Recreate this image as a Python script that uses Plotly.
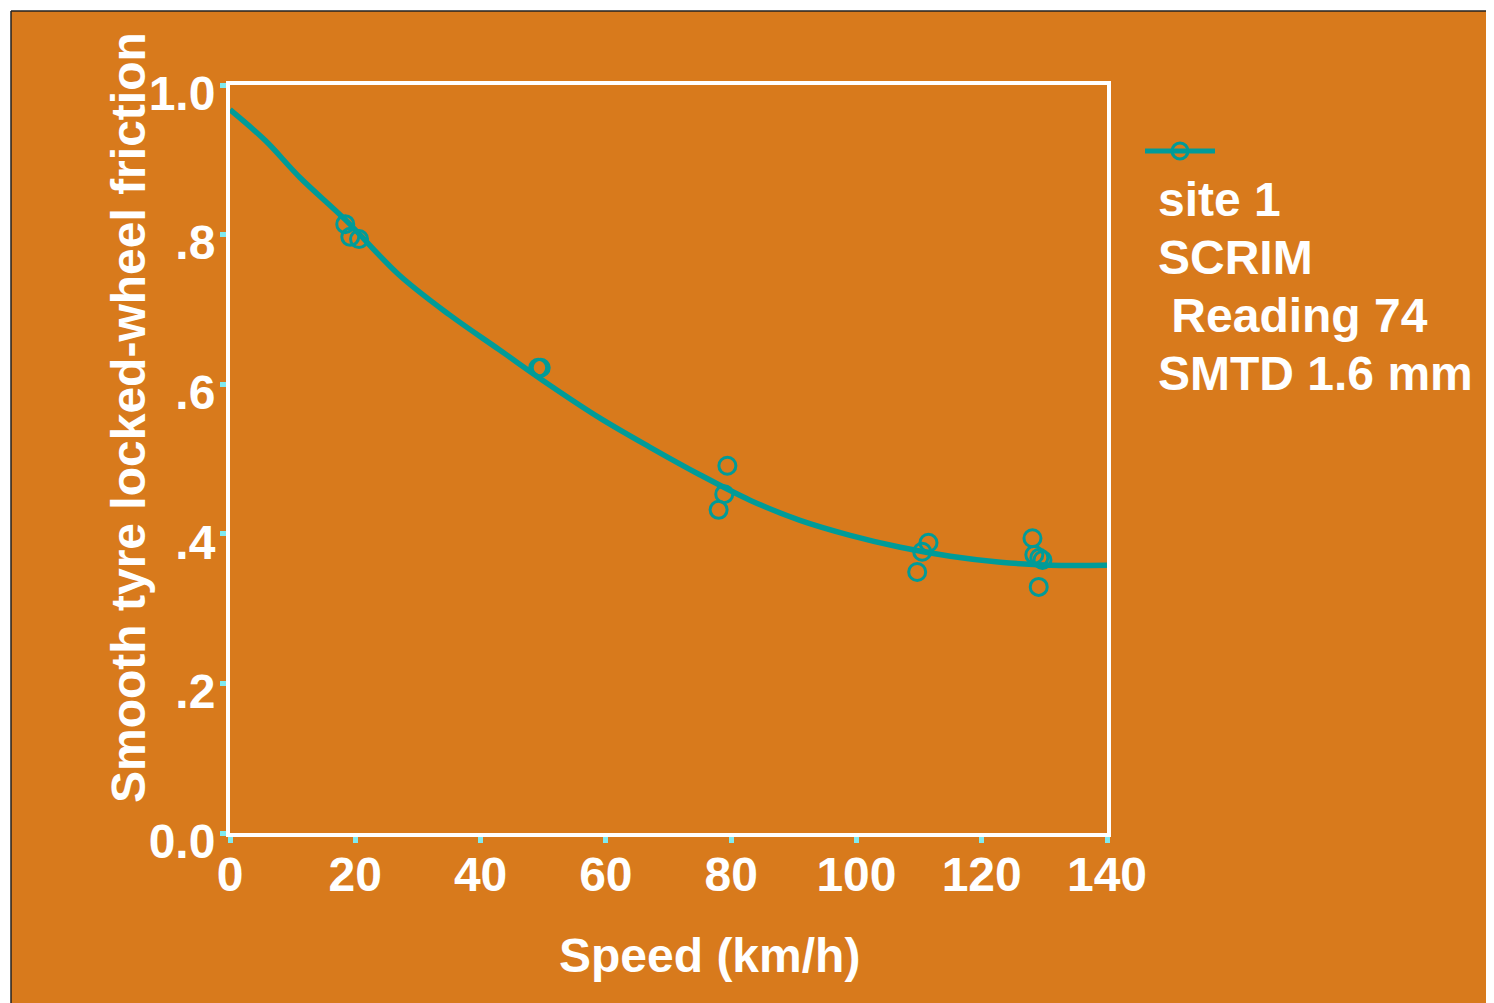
import plotly.graph_objects as go

# Measured points (speed km/h, friction)
pt_speed = [18.4, 19.2, 20.6, 49.2, 49.6, 79.4, 78.9, 78.0, 109.7, 110.5, 111.5, 128.1, 128.4, 129.2, 129.7, 129.1]
pt_friction = [0.814, 0.797, 0.794, 0.622, 0.622, 0.491, 0.453, 0.432, 0.349, 0.376, 0.388, 0.394, 0.372, 0.368, 0.365, 0.329]

# Fitted curve
curve_speed = [0, 5.6, 11.2, 18.4, 27, 35, 43, 51, 59, 67, 75, 83, 91, 99, 107, 115, 123, 131, 140]
curve_friction = [0.967, 0.926, 0.876, 0.82, 0.746, 0.693, 0.646, 0.599, 0.555, 0.516, 0.479, 0.445, 0.418, 0.398, 0.382, 0.370, 0.362, 0.358, 0.358]

x_ticks = [0, 20, 40, 60, 80, 100, 120, 140]
y_ticks = [0, 0.2, 0.4, 0.6, 0.8, 1.0]
y_ticktext = ["0.0", ".2", ".4", ".6", ".8", "1.0"]

legend_lines = ["site 1", "SCRIM", "\u00a0Reading 74", "SMTD 1.6 mm"]

ORANGE = "#D87A1C"
TEAL = "#009B98"
FONT = "Liberation Sans, Arial, sans-serif"
FS = 48

fig = go.Figure()
fig.add_trace(go.Scatter(x=curve_speed, y=curve_friction, mode="lines",
                         line=dict(color=TEAL, width=5.5, shape="spline"),
                         showlegend=False, hoverinfo="skip"))
fig.add_trace(go.Scatter(x=pt_speed, y=pt_friction, mode="markers",
                         marker=dict(symbol="circle-open", size=17, color=TEAL, line=dict(width=3, color=TEAL)),
                         showlegend=False, cliponaxis=False))
# legend sample (line with circle)
fig.add_trace(go.Scatter(x=[None], y=[None], mode="lines+markers", name="",
                         line=dict(color=TEAL, width=5),
                         marker=dict(symbol="circle-open", size=17, color=TEAL, line=dict(width=3, color=TEAL)),
                         showlegend=True))

# page body has an 8px margin; figure sized so the page matches 1494x1003
OFF = 8
W, H = 1494 - OFF, 1003 - OFF
L, R, T, B = 230 - OFF, 387, 85 - OFF, 170
pw, ph = W - L - R, H - T - B

def px_x(x):
    return (x - OFF - L) / pw

def px_y(y):
    return (H - B - (y - OFF)) / ph

fig.add_shape(type="rect", xref="paper", yref="paper", layer="below",
              x0=px_x(11), x1=px_x(1520), y0=px_y(1030), y1=px_y(11),
              fillcolor=ORANGE, line=dict(width=0))
fig.add_shape(type="line", xref="paper", yref="paper", layer="below",
              x0=px_x(11), x1=px_x(1520), y0=px_y(11), y1=px_y(11),
              line=dict(color="#222222", width=1.5))
fig.add_shape(type="line", xref="paper", yref="paper", layer="below",
              x0=px_x(11), x1=px_x(11), y0=px_y(1030), y1=px_y(11),
              line=dict(color="#222222", width=1.5))

axis_common = dict(showline=True, linecolor="white", linewidth=4, mirror=True,
                   showgrid=False, zeroline=False, ticks="outside", ticklen=6,
                   tickwidth=5, tickcolor="#7FEAF0",
                   tickfont=dict(family=FONT, size=FS, color="white", weight="bold"))

fig.update_xaxes(range=[0, 140], tickvals=x_ticks, ticklabelstandoff=-10, **axis_common)
fig.update_yaxes(range=[0, 1.0], tickvals=y_ticks, ticktext=y_ticktext,
                 ticklabelshift=8, ticklabelstandoff=-5, **axis_common)

fig.add_annotation(text="Speed (km/h)", xref="paper", yref="paper",
                   x=px_x(709), y=px_y(955), xanchor="center", yanchor="middle",
                   showarrow=False, font=dict(family=FONT, size=FS, color="white", weight="bold"))
fig.add_annotation(text="Smooth tyre locked-wheel friction", xref="paper", yref="paper",
                   x=px_x(128), y=px_y(418), xanchor="center", yanchor="middle", textangle=-90,
                   showarrow=False, font=dict(family=FONT, size=FS, color="white", weight="bold"))
for i, line in enumerate(legend_lines):
    fig.add_annotation(text=line, xref="paper", yref="paper",
                       x=px_x(1156), y=px_y(200 + 57.7 * i), xanchor="left", yanchor="middle", align="left",
                       showarrow=False, font=dict(family=FONT, size=FS, color="white", weight="bold"))

fig.update_layout(
    width=W, height=H,
    margin=dict(l=L, r=R, t=T, b=B),
    paper_bgcolor="white", plot_bgcolor="rgba(0,0,0,0)",
    showlegend=True,
    legend=dict(x=px_x(1140), y=px_y(151), xanchor="left", yanchor="middle",
                bgcolor="rgba(0,0,0,0)", itemwidth=70,
                font=dict(family=FONT, size=20, color="white")),
)

fig.write_html("out.html")
